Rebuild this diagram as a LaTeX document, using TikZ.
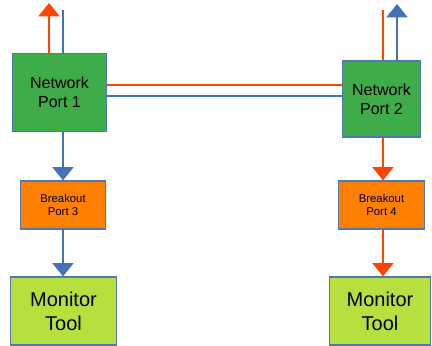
\documentclass[tikz,border=0pt]{standalone}
\usepackage{fontspec}
\setmainfont{Liberation Sans}
\usetikzlibrary{arrows.meta, positioning}

\definecolor{portgreen}{RGB}{62,172,72}
\definecolor{brkorange}{RGB}{255,128,0}
\definecolor{toolgreen}{RGB}{182,224,62}
\definecolor{linered}{RGB}{255,69,0}
\definecolor{lineblue}{RGB}{68,114,180}
\definecolor{edgeblue}{RGB}{80,120,180}

\begin{document}
\begin{tikzpicture}[
    x=0.75pt, y=-0.75pt,
    box/.style={draw=edgeblue, line width=0.8pt, fill=#1, align=center,
                inner sep=0pt},
    redl/.style={draw=linered, line width=2.2pt},
    bluel/.style={draw=lineblue, line width=2.2pt},
    arr/.style={-{Triangle[width=15.5pt, length=10pt]}},
  ]
  \useasboundingbox (0,0) rectangle (432,346);

  % Network ports
  \node[box=portgreen, minimum width=71pt, minimum height=58pt,
        font=\fontsize{12}{14}\selectfont] (np1) at (59.5,92.5) {Network\\Port 1};
  \node[box=portgreen, minimum width=58pt, minimum height=57pt,
        font=\fontsize{12}{14}\selectfont] (np2) at (381.5,99) {Network\\Port 2};

  % Breakout ports
  \node[box=brkorange, minimum width=64pt, minimum height=36pt,
        font=\fontsize{8.5}{10}\selectfont] (bp3) at (63,205) {Breakout\\Port 3};
  \node[box=brkorange, minimum width=65pt, minimum height=36pt,
        font=\fontsize{8.5}{10}\selectfont] (bp4) at (381.5,205) {Breakout\\Port 4};

  % Monitor tools
  \node[box=toolgreen, minimum width=80pt, minimum height=51pt,
        font=\fontsize{15}{18}\selectfont] (mt1) at (63.5,311) {Monitor\\Tool};
  \node[box=toolgreen, minimum width=76pt, minimum height=51pt,
        font=\fontsize{15}{18}\selectfont] (mt2) at (380,311) {Monitor\\Tool};

  % free ends
  \coordinate (r1) at (49,3);
  \coordinate (b1) at (63,10);
  \coordinate (r2) at (383,10);
  \coordinate (b2) at (397,4);
  \coordinate (hr) at (0,85);
  \coordinate (hb) at (0,96);

  % Links between ports
  \draw[redl] (np1.east |- hr) -- (np2.west |- hr);
  \draw[bluel] (np1.east |- hb) -- (np2.west |- hb);

  % Port 1 side
  \draw[redl, arr] (np1.north -| r1) -- (r1);
  \draw[bluel] (b1) -- (np1.north -| b1);
  \draw[bluel, arr] (np1.south -| b1) -- (bp3.north -| b1);
  \draw[bluel, arr] (bp3.south -| b1) -- (mt1.north -| b1);

  % Port 2 side
  \draw[bluel, arr] (np2.north -| b2) -- (b2);
  \draw[redl] (r2) -- (np2.north -| r2);
  \draw[redl, arr] (np2.south -| r2) -- (bp4.north -| r2);
  \draw[redl, arr] (bp4.south -| r2) -- (mt2.north -| r2);

\end{tikzpicture}
\end{document}
